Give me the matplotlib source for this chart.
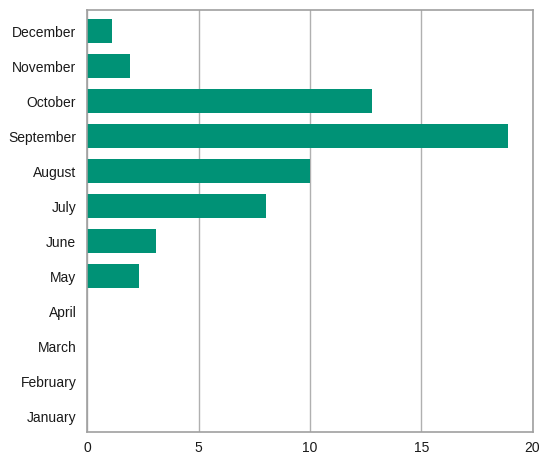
import matplotlib.pyplot as plt
import numpy as np

months = ["January", "February", "March", "April", "May", "June", "July",
          "August", "September", "October", "November", "December"]
values = [0, 0, 0, 0, 2.3, 3.1, 8.0, 10.0, 18.9, 12.8, 1.9, 1.1]
xticks = [0, 5, 10, 15, 20]

plt.rcParams['font.family'] = ['Liberation Sans', 'DejaVu Sans']

fig = plt.figure(figsize=(5.39, 4.56), dpi=100)
ax = fig.add_axes([0.1623, 0.0511, 0.8257, 0.9254])

y = np.arange(len(months))
ax.barh(y, values, height=0.68, color='#009276', zorder=2)

ax.set_xlim(0, 20)
ax.set_ylim(-0.45, 11.6)
ax.set_yticks(y)
ax.set_yticklabels(months, fontsize=10, color='#1a1a1a')
ax.set_xticks(xticks)
ax.set_xticklabels([str(t) for t in xticks], fontsize=10, color='#1a1a1a')
ax.tick_params(length=0)
ax.tick_params(axis='x', pad=6)
ax.tick_params(axis='y', pad=8)

ax.grid(axis='x', color='#b0b0b0', linewidth=1, zorder=1)
for s in ax.spines.values():
    s.set_color('#a0a0a0')
    s.set_linewidth(1.2)

fig.savefig('out.png', dpi=100)
